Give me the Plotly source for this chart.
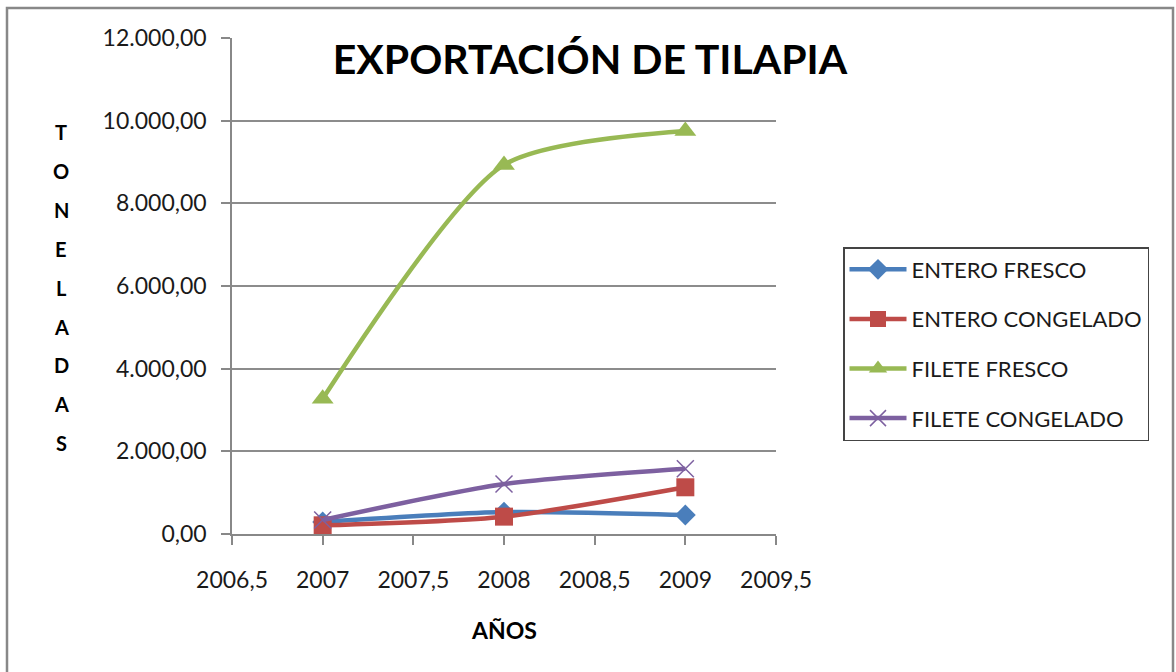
import plotly.graph_objects as go

years = [2007, 2008, 2009]
entero_fresco = [290, 530, 460]
entero_congelado = [210, 420, 1130]
filete_fresco = [3270, 8930, 9750]
filete_congelado = [340, 1210, 1580]

series_names = ["ENTERO FRESCO", "ENTERO CONGELADO", "FILETE FRESCO", "FILETE CONGELADO"]
x_tickvals = [2006.5, 2007, 2007.5, 2008, 2008.5, 2009, 2009.5]
x_ticktext = ["2006,5", "2007", "2007,5", "2008", "2008,5", "2009", "2009,5"]
y_tickvals = [0, 2000, 4000, 6000, 8000, 10000, 12000]
y_ticktext = ["0,00", "2.000,00", "4.000,00", "6.000,00", "8.000,00", "10.000,00", "12.000,00"]
ytitle_letters = list("TONELADAS")

W, H = 1176, 672
L, R, T, B = 232, 776, 38, 534

def px(x):
    return (x - L) / (R - L)

def py(y):
    return (B - y) / (B - T)

styles = [
    dict(color="#4A7EBB", symbol="diamond", size=16),
    dict(color="#BE4B48", symbol="square", size=18),
    dict(color="#98B954", symbol="triangle-up", size=19),
    dict(color="#7D60A0", symbol="x-thin", size=17),
]
data = [entero_fresco, entero_congelado, filete_fresco, filete_congelado]

fig = go.Figure()
for i, (name, vals, st) in enumerate(zip(series_names, data, styles)):
    marker = dict(color=st["color"], symbol=st["symbol"], size=st["size"])
    if st["symbol"] == "x-thin":
        marker["line"] = dict(color=st["color"], width=1.5)
    fig.add_trace(go.Scatter(
        x=years, y=vals, name=name, mode="lines+markers",
        line=dict(color=st["color"], width=4.5, shape="spline", smoothing=0.7),
        marker=marker, legendgroup="g%d" % i,
    ))

font_family = "Lato, Open Sans, sans-serif"

fig.update_layout(
    width=W, height=H,
    margin=dict(l=L, r=W - R, t=T, b=H - B),
    paper_bgcolor="white", plot_bgcolor="white",
    separators=",.",
    font=dict(family=font_family, color="#1a1a1a", size=22),
    title=dict(text="<b>EXPORTACIÓN DE TILAPIA</b>", x=590 / W, y=1 - 60 / H,
               xanchor="center", yanchor="middle",
               font=dict(family=font_family, size=41, color="black")),
    showlegend=True,
    legend=dict(x=px(843), y=py(247), xanchor="left", yanchor="top",
                bordercolor="#444444", borderwidth=1.5, bgcolor="white",
                font=dict(size=22, family=font_family, color="#1a1a1a"),
                tracegroupgap=18, traceorder="grouped",
                itemwidth=57),
    xaxis=dict(range=[2006.5, 2009.5], tickvals=x_tickvals, ticktext=x_ticktext,
               showgrid=False, zeroline=False, showline=True, linecolor="#888888",
               linewidth=1.5, ticks="outside", ticklen=9, tickcolor="#888888",
               tickwidth=1.5, ticklabelstandoff=16,
               tickfont=dict(size=23, family=font_family, color="#1a1a1a")),
    yaxis=dict(range=[0, 12000], tickvals=y_tickvals, ticktext=y_ticktext,
               showgrid=True, gridcolor="#8c8c8c", gridwidth=1.5, zeroline=False,
               showline=True, linecolor="#888888", linewidth=1.5,
               ticks="outside", ticklen=9, tickcolor="#888888", tickwidth=1.5,
               ticklabelstandoff=10,
               tickfont=dict(size=23, family=font_family, color="#1a1a1a")),
)

# x axis title
fig.add_annotation(text="<b>AÑOS</b>", x=px(504), y=py(630), xref="paper", yref="paper",
                   showarrow=False, xanchor="center", yanchor="middle",
                   font=dict(size=23, family=font_family, color="black"))

# vertical stacked y-axis title
y0, step = 132, 38.9
for k, ch in enumerate(ytitle_letters):
    fig.add_annotation(text="<b>%s</b>" % ch, x=px(61), y=py(y0 + k * step),
                       xref="paper", yref="paper", showarrow=False,
                       xanchor="center", yanchor="middle",
                       font=dict(size=20, family=font_family, color="black"))

# chart border
fig.add_shape(type="rect", xref="paper", yref="paper",
              x0=px(7), x1=px(1173), y0=py(690), y1=py(8),
              line=dict(color="#888888", width=2.5), layer="below")

fig.write_html("out.html")
